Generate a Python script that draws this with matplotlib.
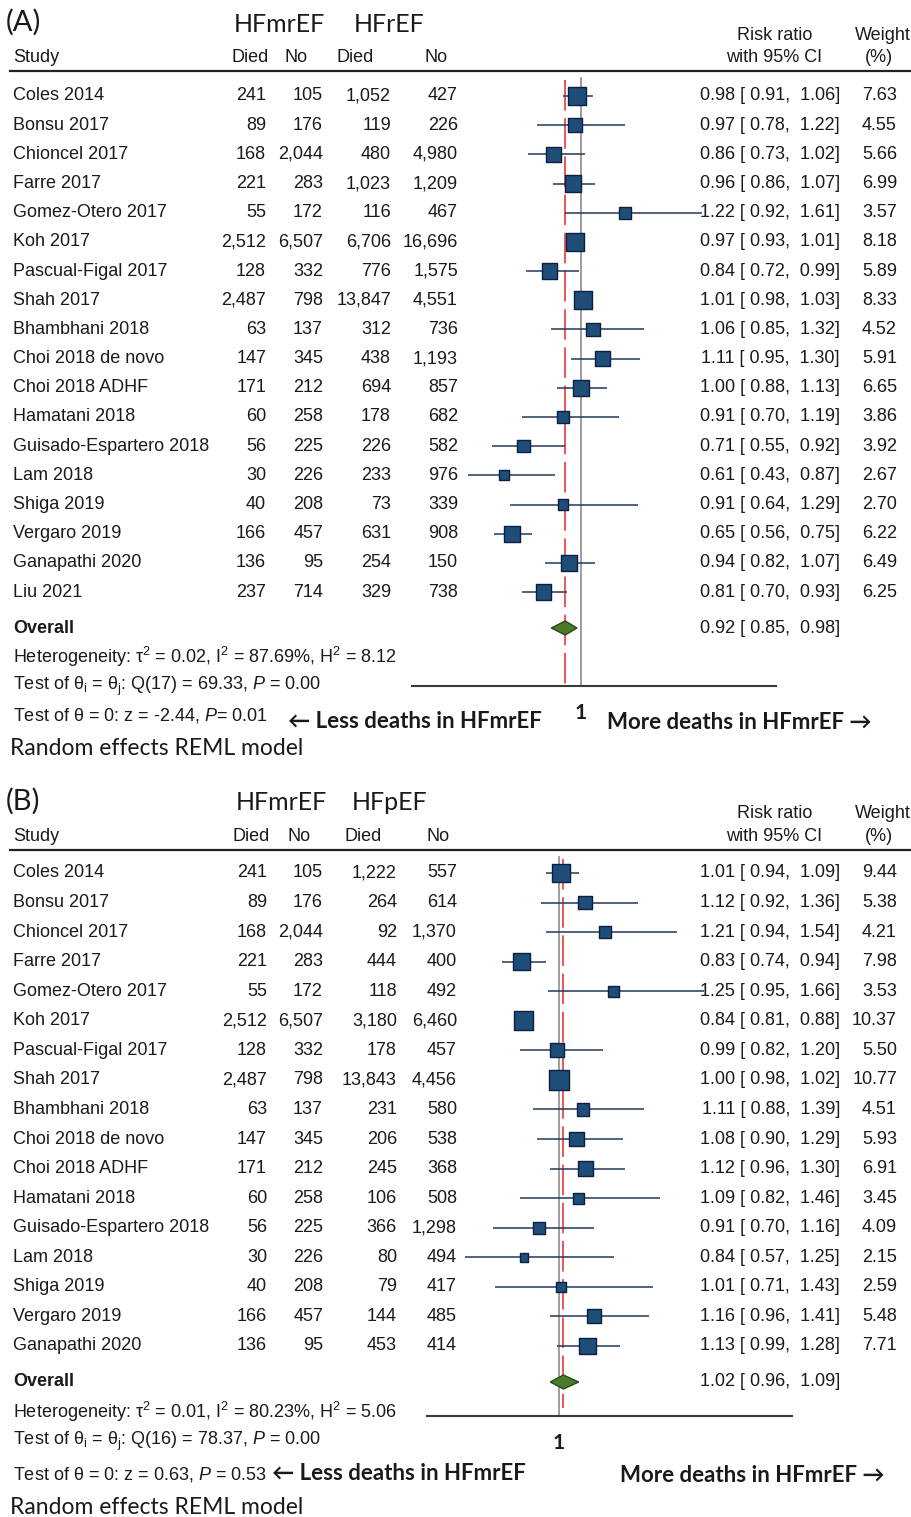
import matplotlib
matplotlib.use("Agg")
import matplotlib.pyplot as plt
from matplotlib.transforms import blended_transform_factory

# ---- Panel A: HFmrEF vs HFrEF ----
studies_a = ["Coles 2014", "Bonsu 2017", "Chioncel 2017", "Farre 2017", "Gomez-Otero 2017",
             "Koh 2017", "Pascual-Figal 2017", "Shah 2017", "Bhambhani 2018", "Choi 2018 de novo",
             "Choi 2018 ADHF", "Hamatani 2018", "Guisado-Espartero 2018", "Lam 2018", "Shiga 2019",
             "Vergaro 2019", "Ganapathi 2020", "Liu 2021"]
died_mr_a = [241, 89, 168, 221, 55, 2512, 128, 2487, 63, 147, 171, 60, 56, 30, 40, 166, 136, 237]
no_mr_a = [105, 176, 2044, 283, 172, 6507, 332, 798, 137, 345, 212, 258, 225, 226, 208, 457, 95, 714]
died_ref_a = [1052, 119, 480, 1023, 116, 6706, 776, 13847, 312, 438, 694, 178, 226, 233, 73, 631, 254, 329]
no_ref_a = [427, 226, 4980, 1209, 467, 16696, 1575, 4551, 736, 1193, 857, 682, 582, 976, 339, 908, 150, 738]
rr_a = [0.98, 0.97, 0.86, 0.96, 1.22, 0.97, 0.84, 1.01, 1.06, 1.11, 1.00, 0.91, 0.71, 0.61, 0.91, 0.65, 0.94, 0.81]
lo_a = [0.91, 0.78, 0.73, 0.86, 0.92, 0.93, 0.72, 0.98, 0.85, 0.95, 0.88, 0.70, 0.55, 0.43, 0.64, 0.56, 0.82, 0.70]
hi_a = [1.06, 1.22, 1.02, 1.07, 1.61, 1.01, 0.99, 1.03, 1.32, 1.30, 1.13, 1.19, 0.92, 0.87, 1.29, 0.75, 1.07, 0.93]
weight_a = [7.63, 4.55, 5.66, 6.99, 3.57, 8.18, 5.89, 8.33, 4.52, 5.91, 6.65, 3.86, 3.92, 2.67, 2.70, 6.22, 6.49, 6.25]
overall_a = [0.92, 0.85, 0.98]
stats_a = [r"Heterogeneity: $\mathrm{\tau}^2$ = 0.02, I$^2$ = 87.69%, H$^2$ = 8.12",
           r"Test of $\mathrm{\theta_i}$ = $\mathrm{\theta_j}$: Q(17) = 69.33, $P$ = 0.00",
           r"Test of $\mathrm{\theta}$ = 0: z = -2.44, $P$= 0.01"]

# ---- Panel B: HFmrEF vs HFpEF ----
studies_b = studies_a[:17]
died_mr_b = died_mr_a[:17]
no_mr_b = no_mr_a[:17]
died_ref_b = [1222, 264, 92, 444, 118, 3180, 178, 13843, 231, 206, 245, 106, 366, 80, 79, 144, 453]
no_ref_b = [557, 614, 1370, 400, 492, 6460, 457, 4456, 580, 538, 368, 508, 1298, 494, 417, 485, 414]
rr_b = [1.01, 1.12, 1.21, 0.83, 1.25, 0.84, 0.99, 1.00, 1.11, 1.08, 1.12, 1.09, 0.91, 0.84, 1.01, 1.16, 1.13]
lo_b = [0.94, 0.92, 0.94, 0.74, 0.95, 0.81, 0.82, 0.98, 0.88, 0.90, 0.96, 0.82, 0.70, 0.57, 0.71, 0.96, 0.99]
hi_b = [1.09, 1.36, 1.54, 0.94, 1.66, 0.88, 1.20, 1.02, 1.39, 1.29, 1.30, 1.46, 1.16, 1.25, 1.43, 1.41, 1.28]
weight_b = [9.44, 5.38, 4.21, 7.98, 3.53, 10.37, 5.50, 10.77, 4.51, 5.93, 6.91, 3.45, 4.09, 2.15, 2.59, 5.48, 7.71]
overall_b = [1.02, 0.96, 1.09]
stats_b = [r"Heterogeneity: $\mathrm{\tau}^2$ = 0.01, I$^2$ = 80.23%, H$^2$ = 5.06",
           r"Test of $\mathrm{\theta_i}$ = $\mathrm{\theta_j}$: Q(16) = 78.37, $P$ = 0.00",
           r"Test of $\mathrm{\theta}$ = 0: z = 0.63, $P$ = 0.53"]

TABLE = ["Liberation Sans", "DejaVu Sans"]
HEAD = ["Lato", "DejaVu Sans"]
FS = 13
INK = "#1a1a1a"
W, H = 912, 1517

plt.rcParams["mathtext.fontset"] = "custom"
plt.rcParams["mathtext.rm"] = "Liberation Sans"
plt.rcParams["mathtext.it"] = "Liberation Sans:italic"


def draw_panel(fig, top, bottom, y0, dy, x1px, scale, p):
    """One forest plot. top/bottom are pixel rows of the panel, y0/dy the first study row
    and row spacing (px), x1px the pixel of RR = 1 and scale the px per unit RR."""
    ax = fig.add_axes([0, 1 - bottom / H, 1, (bottom - top) / H])
    ax.set_xlim(1 - x1px / scale, 1 + (W - x1px) / scale)
    ax.set_ylim((bottom - y0) / dy, (top - y0) / dy)
    ax.axis("off")
    tr = blended_transform_factory(ax.transAxes, ax.transData)

    def r(py):
        return (py - y0) / dy

    def txt(xpx, py, s, ha="left", size=FS, fam=TABLE, **kw):
        ax.text(xpx / W, r(py), s, transform=tr, ha=ha, va="center", fontsize=size,
                family=fam, color=INK, **kw)

    # headers
    txt(6, p["hy"] - 36, p["tag"], size=21, fam=HEAD)
    txt(p["g1"], p["hy"] - 34, "HFmrEF", ha="center", size=18, fam=HEAD)
    txt(p["g2"], p["hy"] - 34, p["ref"], ha="center", size=18, fam=HEAD)
    txt(13, p["hy"], "Study")
    for xx, s in zip(p["hx"], ["Died", "No", "Died", "No"]):
        txt(xx, p["hy"], s)
    txt(775, p["hy"] - 23, "Risk ratio", ha="center")
    txt(774, p["hy"], "with 95% CI", ha="center")
    txt(883, p["hy"] - 23, "Weight", ha="center")
    txt(879, p["hy"], "(%)", ha="center")
    ax.plot([10 / W, 1], [r(p["hy"] + 13)] * 2, transform=tr, color="#222222", lw=1.6)

    n = len(p["studies"])
    rows = list(range(n))
    cols = [p["died_mr"], p["no_mr"], p["died_ref"], p["no_ref"]]
    for i in rows:
        txt(13, y0 + i * dy, p["studies"][i])
        for xx, col in zip(p["cx"], cols):
            txt(xx, y0 + i * dy, f"{col[i]:,}", ha="right")
        txt(840, y0 + i * dy, f"{p['rr'][i]:.2f} [ {p['lo'][i]:.2f},  {p['hi'][i]:.2f}]", ha="right")
        txt(897, y0 + i * dy, f"{p['w'][i]:.2f}", ha="right")

    est, olo, ohi = p["overall"]
    oy = p["oy"]
    txt(13, oy, "Overall", weight="bold")
    txt(840, oy, f"{est:.2f} [ {olo:.2f},  {ohi:.2f}]", ha="right")
    for k, s in enumerate(p["stats"]):
        txt(13, p["sy"][k], s)
    txt(10, p["sy"][2] + 33, "Random effects REML model", size=16.5, fam=HEAD)

    # reference lines
    ax.plot([1, 1], [r(p["hy"] + 20), r(p["axy"])], color="#8c8c8c", lw=1.2, zorder=1)
    ax.plot([est, est], [r(p["hy"] + 22), r(p["axy"] - p["redgap"])], color="#e8262a",
            lw=1.1, dashes=(20, 5), zorder=1)
    ax.plot(p["axis"], [r(p["axy"])] * 2, color="#3a3a3a", lw=1.5)
    ax.text(1, r(p["axy"] + 27), "1", ha="center", va="center", fontsize=15, family=HEAD,
            weight="bold", color=INK)
    txt(p["lx"], p["ay"], "\u2190 Less deaths in HFmrEF", size=16, fam=HEAD, weight="bold")
    txt(p["mx"], p["ay"] + 1, "More deaths in HFmrEF \u2192", size=16, fam=HEAD, weight="bold")

    # study estimates
    ax.hlines(rows, p["lo"], p["hi"], color="#22385e", lw=1.1, zorder=2)
    sizes = [(p["k"] * 0.72 * wt ** 0.5) ** 2 for wt in p["w"]]
    ax.scatter(p["rr"], rows, s=sizes, marker="s", color="#1e4d78", edgecolor="#0b1f42",
               linewidth=1.0, zorder=3)
    hd = 7 / dy
    ax.fill([olo, est, ohi, est], [r(oy), r(oy) - hd, r(oy), r(oy) + hd],
            facecolor="#4b7a2b", edgecolor="#2a4a15", lw=1.0, zorder=3)


fig = plt.figure(figsize=(W / 100, H / 100), dpi=100)
fig.patch.set_facecolor("white")

draw_panel(fig, 0, 760, 96, 29.18, 581, 198, dict(
    tag="(A)", ref="HFrEF", g1=279, g2=389, hy=58, hx=[232, 285, 337, 425],
    cx=[266, 323, 391, 458], studies=studies_a, died_mr=died_mr_a, no_mr=no_mr_a,
    died_ref=died_ref_a, no_ref=no_ref_a, rr=rr_a, lo=lo_a, hi=hi_a, w=weight_a,
    overall=overall_a, stats=stats_a, oy=628, sy=[657, 686, 715], axy=686, redgap=0,
    axis=[0.1465, 1.985], lx=288, mx=607, ay=721, k=6.3))

draw_panel(fig, 760, 1517, 873, 29.56, 559, 219, dict(
    tag="(B)", ref="HFpEF", g1=281, g2=390, hy=837, hx=[233, 288, 345, 427],
    cx=[267, 323, 397, 457], studies=studies_b, died_mr=died_mr_b, no_mr=no_mr_b,
    died_ref=died_ref_b, no_ref=no_ref_b, rr=rr_b, lo=lo_b, hi=hi_b, w=weight_b,
    overall=overall_b, stats=stats_b, oy=1382, sy=[1412, 1441, 1474], axy=1416, redgap=8,
    axis=[0.397, 2.064], lx=272, mx=620, ay=1474, k=5.9))

fig.savefig("out.png", dpi=100, facecolor="white")
